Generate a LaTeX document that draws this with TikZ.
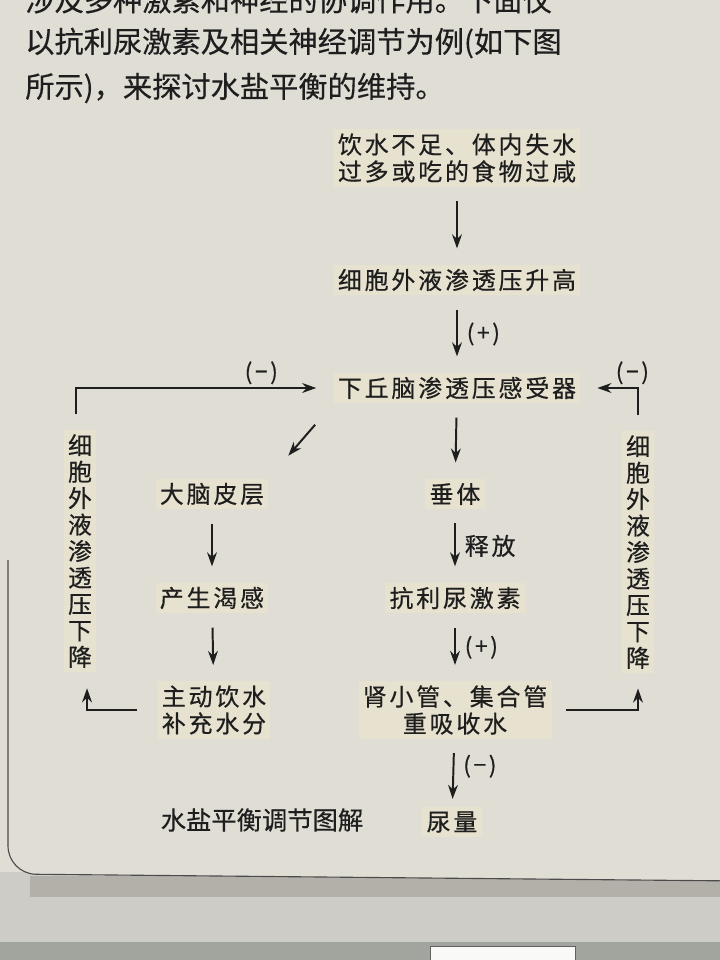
\documentclass[tikz,border=0pt]{standalone}
\usepackage{fontspec}
\usepackage{xcolor}
\setmainfont{Noto Sans CJK SC}[FakeBold=0.4]
\newfontfamily\diagfont[LetterSpace=12,FakeBold=0.5]{Noto Sans CJK SC}
\usetikzlibrary{arrows.meta,positioning}

\definecolor{paper}{RGB}{224,221,213}
\definecolor{chip}{RGB}{231,225,207}
\definecolor{shadowgray}{RGB}{178,176,168}
\definecolor{floorgray}{RGB}{206,204,198}
\definecolor{bargray}{RGB}{162,164,158}
\definecolor{ink}{RGB}{30,30,30}

\tikzset{
  para/.style={font=\fontsize{20.8}{20.8}\selectfont, text=ink, inner sep=0pt, anchor=west},
  box/.style={font=\diagfont\fontsize{17}{19.2}\selectfont, text=ink, fill=chip, inner sep=3pt, align=center},
  vbox/.style={font=\diagfont\fontsize{17}{18.8}\selectfont, text=ink, fill=chip, inner sep=3pt, align=center},
  sign/.style={font=\diagfont\fontsize{16}{16}\selectfont, text=ink, inner sep=2pt},
  flow/.style={-{Stealth[length=10pt,width=7pt]}, draw=ink, line width=1.4pt, shorten <=0.35cm, shorten >=0.4cm},
  back/.style={-{Stealth[length=10pt,width=7pt]}, draw=ink, line width=1.4pt}
}

\begin{document}
\begin{tikzpicture}[x=0.025cm,y=-0.025cm]
\useasboundingbox (0,0) rectangle (720,960);
\fill[paper] (0,0) rectangle (720,960);

% page below the box
\fill[floorgray] (0,872) rectangle (720,960);
\fill[shadowgray] (30,876) rectangle (720,897);
\fill[bargray] (0,942) rectangle (720,960);
\draw[fill=white!88!floorgray, draw=ink!70] (430,946) rectangle (575,962);
\fill[paper] (-10,-10) -- (8,-10) [rounded corners=20] -- (8,874) -- (740,881) [sharp corners] -- (740,-10) -- cycle;
\draw[ink!80, line width=0.8pt, rounded corners=20] (8,560) -- (8,874) -- (740,881);

% text above the diagram
\node[para] (l1) at (25,0) {涉及多种激素和神经的协调作用。下面仅};
\node[para] (l2) at (25,43) {以抗利尿激素及相关神经调节为例(如下图};
\node[para] (l3) at (25,88) {所示)，来探讨水盐平衡的维持。};

% nodes
\node[box] (q1) at (457,158) {饮水不足、体内失水\\过多或吃的食物过咸};
\node[box] (q2) at (457,280) {细胞外液渗透压升高};
\node[box] (rec) at (457,388) {下丘脑渗透压感受器};
\node[box] (cortex) at (212,494) {大脑皮层};
\node[box] (pit) at (455,494) {垂体};
\node[box] (thirst) at (212,598) {产生渴感};
\node[box] (adh) at (455,598) {抗利尿激素};
\node[box] (drink) at (214,710) {主动饮水\\补充水分};
\node[box] (kid) at (455,710) {肾小管、集合管\\重吸收水};
\node[box] (urine) at (452,822) {尿量};
\node[font=\fontsize{18}{18}\selectfont, text=ink] (cap) at (262,820) {水盐平衡调节图解};
\node[vbox] (lv) at (80,551) {细\\胞\\外\\液\\渗\\透\\压\\下\\降};
\node[vbox] (rv) at (638,552) {细\\胞\\外\\液\\渗\\透\\压\\下\\降};

% main chain
\draw[flow] (q1) -- (q2);
\draw[flow] (q2) -- node[sign, anchor=west, xshift=0.15cm] {(+)} (rec);
\draw[flow] (rec) -- (pit);
\draw[flow] (pit) -- node[sign, anchor=west, xshift=0.15cm, font=\diagfont\fontsize{17}{17}\selectfont] {释放} (adh);
\draw[flow] (adh) -- node[sign, anchor=west, xshift=0.15cm] {(+)} (kid);
\draw[flow, shorten >=0.2cm] (kid) -- node[sign, anchor=west, xshift=0.15cm, pos=0.4] {(−)} (urine);
\draw[flow, shorten <=0.7cm, shorten >=0.75cm] (rec.south west) -- (cortex.north east);
\draw[flow] (cortex) -- (thirst);
\draw[flow] (thirst) -- (drink);

% feedback
\draw[back, shorten <=0.5cm, shorten >=0.4cm] (drink.west) -| ([xshift=5]lv.south);
\draw[back, shorten <=0.4cm, shorten >=0.43cm] ([xshift=-3]lv.north) |- node[sign, above, pos=0.86] {(−)} (rec.west);
\draw[back, shorten <=0.35cm, shorten >=0.38cm] (kid.east) -| (rv.south);
\draw[back, shorten <=0.4cm, shorten >=0.42cm] (rv.north) |- node[sign, above, pos=0.5, xshift=-4] {(−)} (rec.east);
\end{tikzpicture}
\end{document}
